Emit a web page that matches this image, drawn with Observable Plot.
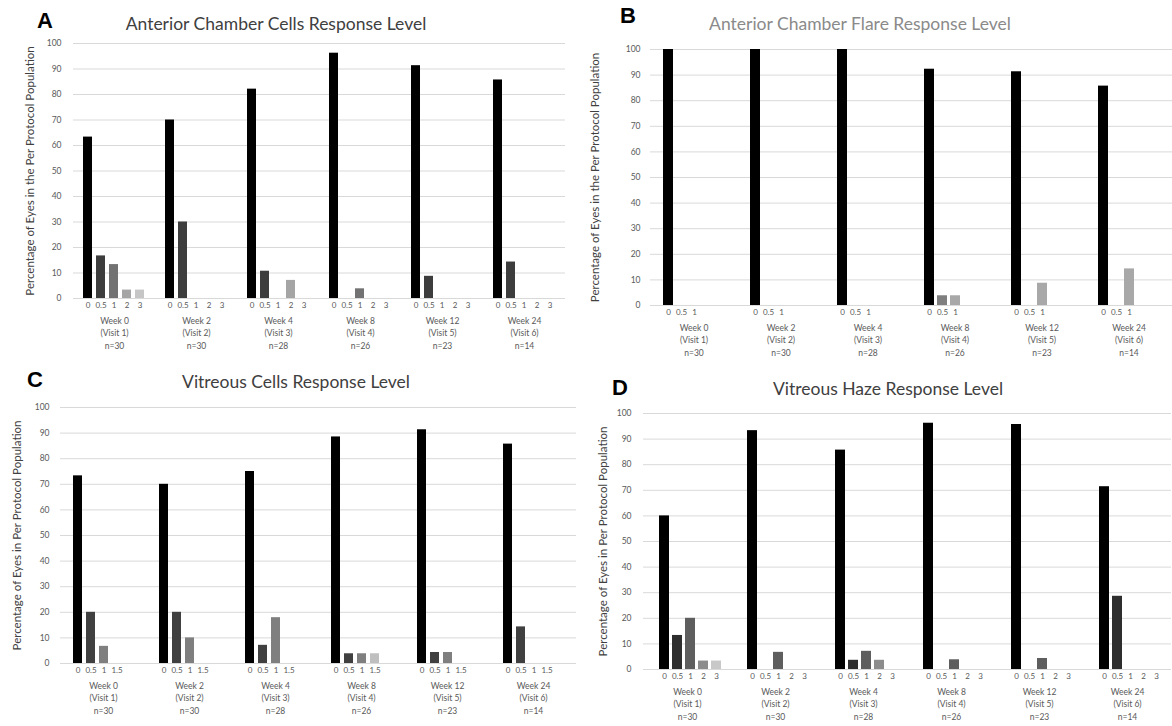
<!DOCTYPE html>
<html><head><meta charset="utf-8">
<script src="https://cdn.jsdelivr.net/npm/d3@7"></script>
<script src="https://cdn.jsdelivr.net/npm/@observablehq/plot@0.6"></script>
<style>
body{margin:0;background:#fff;width:1172px;height:726px;position:relative;overflow:hidden;font-family:Lato,"Open Sans",sans-serif}
.panel{position:absolute}
.letter{position:absolute;font:bold 22px "Liberation Sans",Arial,sans-serif;line-height:1;color:#000}
.title{position:absolute;font-size:17.5px;line-height:1;color:#404040;white-space:nowrap;transform:translateX(-50%)}
</style></head><body>
<script>
const weeks = ["Week 0","Week 2","Week 4","Week 8","Week 12","Week 24"];
const visits = ["(Visit 1)","(Visit 2)","(Visit 3)","(Visit 4)","(Visit 5)","(Visit 6)"];
const nEyes = [30,30,28,26,23,14];

const acCellsLevels = ["0","0.5","1","2","3"];
const acCellsValues = [
  [63.3,16.7,13.3,3.3,3.3],
  [70,30,0,0,0],
  [82.1,10.7,0,7.1,0],
  [96.2,0,3.8,0,0],
  [91.3,8.7,0,0,0],
  [85.7,14.3,0,0,0]
];
const acFlareLevels = ["0","0.5","1"];
const acFlareValues = [
  [100,0,0],
  [100,0,0],
  [100,0,0],
  [92.3,3.8,3.8],
  [91.3,0,8.7],
  [85.7,0,14.3]
];
const vitCellsLevels = ["0","0.5","1","1.5"];
const vitCellsValues = [
  [73.3,20,6.7,0],
  [70,20,10,0],
  [75,7.1,17.9,0],
  [88.5,3.8,3.8,3.8],
  [91.3,4.3,4.3,0],
  [85.7,14.3,0,0]
];
const vitHazeLevels = ["0","0.5","1","2","3"];
const vitHazeValues = [
  [60,13.3,20,3.3,3.3],
  [93.3,0,6.7,0,0],
  [85.7,3.6,7.1,3.6,0],
  [96.2,0,3.8,0,0],
  [95.7,0,4.3,0,0],
  [71.4,28.6,0,0,0]
];
const yTicks = [0,10,20,30,40,50,60,70,80,90,100];

function addDiv(cls, text, left, top, extra) {
  const d = document.createElement("div");
  d.className = cls; d.textContent = text;
  d.style.left = left + "px"; d.style.top = top + "px";
  if (extra) Object.assign(d.style, extra);
  document.body.appendChild(d);
}

function panel(o) {
  const rows = [];
  weeks.forEach((w, i) => o.levels.forEach((l, j) => {
    if (o.values[i][j] > 0) rows.push({week: w, level: l, value: o.values[i][j]});
  }));
  const chart = Plot.plot({
    width: o.width, height: o.height,
    marginLeft: o.ml, marginRight: o.mr, marginTop: o.mt, marginBottom: o.mb,
    style: {fontFamily: "Lato, 'Open Sans', sans-serif", color: "#595959", background: "transparent", overflow: "visible"},
    fx: {domain: weeks, padding: 0},
    x: {domain: o.levels, paddingInner: o.pi, paddingOuter: o.po, align: o.align},
    y: {domain: [0, 100]},
    color: {domain: o.levels, range: o.colors},
    marks: [
      Plot.gridY(yTicks, {stroke: "#d9d9d9", strokeOpacity: 1}),
      Plot.axisY(yTicks, {tickSize: 0, tickPadding: o.yPad, fontSize: 8.5, label: null}),
      Plot.barY(rows, {fx: "week", x: "level", y: "value", fill: "level"}),
      Plot.axisX({tickSize: 0, tickPadding: 4, fontSize: 8, label: null}),
      Plot.axisFx({anchor: "bottom", tickSize: 0, tickPadding: 16, fontSize: 8.5, lineHeight: 1.5, label: null,
        tickFormat: w => { const i = weeks.indexOf(w); return `${w}\n${visits[i]}\nn=${nEyes[i]}`; }}),
      Plot.text([o.yLabel], {fx: () => weeks[0], frameAnchor: "left", textAnchor: "middle", rotate: -90, dx: o.yLabelDx,
        text: d => d, fontSize: 11.5, fill: "#404040"})
    ]
  });
  chart.classList.add("panel");
  chart.style.left = o.left + "px";
  chart.style.top = o.top + "px";
  document.body.appendChild(chart);
}

panel({levels: acCellsLevels, values: acCellsValues,
  colors: ["#000000","#3d3d3d","#727272","#a5a5a5","#c6c6c6"],
  yLabel: "Percentage of Eyes in the Per Protocol Population",
  left: 0, top: 0, width: 580, height: 360, ml: 70, mr: 13, mt: 43, mb: 62,
  pi: 0.3, po: 0.72, align: 0.5, yPad: 12, yLabelDx: -43});

panel({levels: acFlareLevels, values: acFlareValues,
  colors: ["#000000","#7f7f7f","#a8a8a8"],
  yLabel: "Percentage of Eyes in the Per Protocol Population",
  left: 580, top: 0, width: 592, height: 365, ml: 70, mr: 0, mt: 49, mb: 60,
  pi: 0.25, po: 1.97, align: 0.25, yPad: 10, yLabelDx: -55});

panel({levels: vitCellsLevels, values: vitCellsValues,
  colors: ["#000000","#404040","#7f7f7f","#bfbfbf"],
  yLabel: "Percentage of Eyes in Per Protocol Population",
  left: 0, top: 360, width: 580, height: 366, ml: 58, mr: 2, mt: 47, mb: 63,
  pi: 0.3, po: 1.36, align: 0.33, yPad: 11, yLabelDx: -43});

panel({levels: vitHazeLevels, values: vitHazeValues,
  colors: ["#000000","#2e2e2e","#5e5e5e","#8c8c8c","#c8c8c8"],
  yLabel: "Percentage of Eyes in Per Protocol Population",
  left: 580, top: 360, width: 592, height: 366, ml: 62, mr: 0, mt: 53, mb: 57,
  pi: 0.25, po: 0.78, align: 0.6, yPad: 12, yLabelDx: -40});

addDiv("letter", "A", 37, 10);
addDiv("letter", "B", 620, 5);
addDiv("letter", "C", 27, 369);
addDiv("letter", "D", 612, 377);
addDiv("title", "Anterior Chamber Cells Response Level", 276, 15);
addDiv("title", "Anterior Chamber Flare Response Level", 860, 15, {color: "#8a8a8a"});
addDiv("title", "Vitreous Cells Response Level", 296, 373);
addDiv("title", "Vitreous Haze Response Level", 888, 380);
</script>
</body></html>
